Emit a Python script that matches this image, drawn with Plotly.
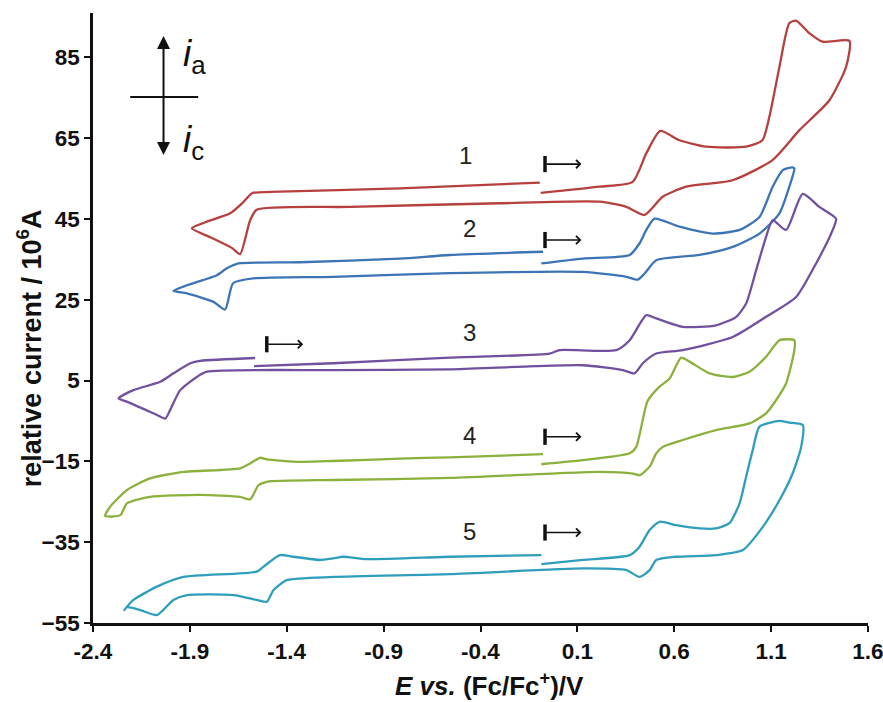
import plotly.graph_objects as go

# ---------------- data (potential in V vs Fc/Fc+, current in 10^-6 A, offset) -------------
c1_E = [-0.089, 0.215, 0.385, 0.456, 0.528, 0.627, 0.765, 0.971, 1.055, 1.091, 1.143, 1.194, 1.229,
        1.297, 1.365, 1.504, 1.487, 1.401, 1.246, 1.107, 0.901, 0.662, 0.540, 0.447, 0.353, 0.215,
        -0.301, -1.074, -1.555, -1.589, -1.641, -1.682, -1.795, -1.890, -1.821, -1.692, -1.630,
        -1.579, -1.486, -0.816, -0.094]
c1_I = [51.5, 53.0, 54.2, 61.3, 66.8, 64.5, 62.9, 62.9, 64.5, 70.3, 82.7, 93.5, 94.1,
        91.0, 88.9, 89.1, 82.7, 74.4, 67.0, 59.6, 54.6, 53.0, 50.5, 46.0, 48.0, 49.3,
        48.9, 48.0, 47.3, 44.7, 36.3, 37.8, 40.5, 42.7, 44.2, 46.4, 48.9,
        51.4, 51.7, 52.6, 54.0]

c2_E = [-0.086, 0.129, 0.370, 0.421, 0.456, 0.498, 0.627, 0.799, 0.937, 1.040, 1.108, 1.160, 1.211,
        1.220, 1.194, 1.143, 1.040, 0.902, 0.730, 0.507, 0.447, 0.412, 0.353, 0.129, -0.558,
        -1.161, -1.572, -1.677, -1.718, -1.778, -1.915, -1.985, -1.915, -1.761, -1.709, -1.649,
        -1.331, -0.816, -0.558, -0.077]
c2_I = [34.0, 35.2, 36.1, 39.0, 42.3, 45.1, 43.1, 41.4, 42.3, 45.5, 53.0, 57.1, 57.8,
        57.5, 53.0, 46.4, 41.4, 38.1, 36.1, 34.8, 31.5, 30.0, 30.7, 31.9, 31.6,
        30.7, 30.3, 29.1, 22.6, 24.5, 26.6, 27.2, 28.6, 31.1, 32.8, 34.0,
        34.3, 35.2, 36.1, 36.9]

c3_E = [-1.569, -1.160, -0.558, -0.043, 0.009, 0.301, 0.370, 0.456, 0.507, 0.644, 0.816, 0.920,
        0.971, 1.023, 1.074, 1.108, 1.177, 1.263, 1.349, 1.435, 1.418, 1.332, 1.229, 1.074, 0.902,
        0.644, 0.507, 0.438, 0.395, 0.335, 0.129, -0.214, -0.558, -1.160, -1.812, -1.864, -1.950,
        -2.002, -2.027, -2.070, -2.225, -2.268, -2.191, -2.053, -1.985, -1.898, -1.847, -1.563]
c3_I = [8.6, 9.3, 10.7, 11.7, 12.55, 12.55, 15.0, 21.2, 20.4, 18.3, 18.7, 20.8,
        24.1, 32.4, 40.6, 44.7, 42.3, 51.2, 48.0, 45.1, 42.3, 34.0, 25.7, 20.8, 15.8,
        12.55, 11.7, 9.3, 6.8, 7.6, 8.8, 8.4, 7.8, 7.6, 7.2, 5.9, 2.65,
        -2.3, -4.4, -3.5, -0.2, 0.6, 2.65, 4.7, 6.8, 9.3, 9.9, 10.6]

c4_E = [-0.086, 0.129, 0.370, 0.404, 0.462, 0.524, 0.576, 0.636, 0.679, 0.782, 0.902, 0.988,
        1.074, 1.143, 1.220, 1.220, 1.177, 1.126, 1.074, 0.988, 0.816, 0.644, 0.541, 0.507,
        0.473, 0.421, 0.387, 0.215, -0.558, -1.160, -1.503, -1.546, -1.589, -1.641, -1.847,
        -2.105, -2.225, -2.259, -2.337, -2.311, -2.225, -2.105, -1.933, -1.641, -1.589, -1.538,
        -1.503, -1.331, -1.160, -0.816, -0.558, -0.077]
c4_I = [-15.7, -14.7, -13.0, -11.4, -0.1, 3.5, 5.5, 10.7, 9.7, 6.8, 5.9, 7.2,
        10.9, 15.0, 15.0, 12.55, 4.3, 0.2, -3.1, -5.6, -7.25, -9.7, -11.4, -13.0,
        -16.3, -18.4, -18.0, -17.6, -19.1, -19.6, -20.05, -20.9, -24.4, -23.8, -23.3,
        -23.8, -25.4, -28.3, -28.5, -26.2, -22.1, -19.2, -17.6, -16.7, -15.5, -14.1,
        -14.5, -15.1, -14.9, -14.3, -14.0, -13.2]

c5_E = [-0.086, 0.129, 0.370, 0.421, 0.473, 0.524, 0.610, 0.730, 0.816, 0.885, 0.937, 0.971,
        1.005, 1.040, 1.143, 1.194, 1.263, 1.255, 1.211, 1.143, 1.057, 0.954, 0.816, 0.610,
        0.507, 0.473, 0.421, 0.353, 0.129, -0.558, -1.160, -1.400, -1.469, -1.503, -1.555,
        -1.675, -1.915, -1.985, -2.070, -2.156, -2.225, -2.239, -2.191, -2.070, -1.933, -1.555,
        -1.521, -1.435, -1.366, -1.228, -1.160, -1.108, -0.988, -0.558, -0.086]
c5_I = [-40.4, -39.4, -38.2, -36.1, -32.0, -29.95, -30.8, -31.6, -31.6, -30.3, -25.4, -18.8,
        -12.2, -6.4, -4.95, -5.4, -6.0, -11.4, -18.0, -24.6, -31.2, -36.95, -38.2, -38.6,
        -39.4, -41.9, -43.6, -41.9, -41.5, -42.9, -43.6, -44.4, -46.9, -49.75, -49.3,
        -48.1, -48.1, -49.3, -53.05, -51.8, -51.1, -51.8, -49.3, -46.0, -43.6, -42.3,
        -41.1, -38.2, -38.6, -39.4, -39.0, -38.6, -39.2, -38.6, -38.2]

curve_labels = ["1", "2", "3", "4", "5"]
curve_colors = ["#B5403D", "#3C74B6", "#7150A0", "#8BB03C", "#2E9EBC"]

x_ticks = [-2.4, -1.9, -1.4, -0.9, -0.4, 0.1, 0.6, 1.1, 1.6]
y_ticks = [-55, -35, -15, 5, 25, 45, 65, 85]

curves = [(c1_E, c1_I), (c2_E, c2_I), (c3_E, c3_I), (c4_E, c4_I), (c5_E, c5_I)]

FONT = "Liberation Sans, Arial, sans-serif"

fig = go.Figure()
for (E, I), col, lab in zip(curves, curve_colors, curve_labels):
    fig.add_trace(go.Scatter(x=E, y=I, mode="lines", name=lab,
                             line=dict(color=col, width=2.3, shape="spline", smoothing=0.6),
                             showlegend=False, hoverinfo="skip"))

ann = []
shapes = []
# curve numbers
label_pos = [(-0.476, 60.8), (-0.455, 42.7), (-0.455, 17.0), (-0.455, -8.5), (-0.455, -32.3)]
for lab, (lx, ly) in zip(curve_labels, label_pos):
    ann.append(dict(x=lx, y=ly, xref="x", yref="y", text=lab, showarrow=False,
                    font=dict(family=FONT, size=24, color="#222")))

# scan-start markers |-->
markers = [(-0.067, 0.121, 58.6), (-0.067, 0.121, 39.8), (-1.503, -1.315, 14.0),
           (-0.067, 0.121, -8.9), (-0.067, 0.121, -32.6)]
for x0, x1, yy in markers:
    ann.append(dict(x=x1, y=yy, ax=x0, ay=yy, xref="x", yref="y", axref="x", ayref="y",
                    text="", showarrow=True, arrowhead=4, arrowsize=1.0, arrowwidth=1.6,
                    arrowcolor="#111"))
    shapes.append(dict(type="line", xref="x", yref="y", x0=x0, x1=x0, y0=yy - 2.0, y1=yy + 2.0,
                       line=dict(color="#111", width=3.5)))

# i_a / i_c indicator
ann.append(dict(x=-2.036, y=90.3, ax=-2.036, ay=60.5, xref="x", yref="y", axref="x", ayref="y",
                text="", showarrow=True, arrowhead=2, arrowside="end+start", arrowsize=1.3,
                arrowwidth=2, arrowcolor="#111"))
shapes.append(dict(type="line", xref="x", yref="y", x0=-2.208, x1=-1.857, y0=75.2, y1=75.2,
                   line=dict(color="#111", width=2)))
ann.append(dict(x=-1.948, y=85.3, xref="x", yref="y", xanchor="left",
                text="<i>i</i><sub>a</sub>", showarrow=False,
                font=dict(family=FONT, size=37, color="#111")))
ann.append(dict(x=-1.948, y=64.0, xref="x", yref="y", xanchor="left",
                text="<i>i</i><sub>c</sub>", showarrow=False,
                font=dict(family=FONT, size=37, color="#111")))

# axis titles (placed as in the original)
ann.append(dict(x=-0.083, y=0.45, xref="paper", yref="paper", textangle=-90,
                xanchor="center", yanchor="middle",
                text="relative current / 10<sup>6</sup>A", showarrow=False,
                font=dict(family=FONT, size=27, color="#111", weight="bold")))
ann.append(dict(x=0.511, y=-0.1015, xref="paper", yref="paper",
                xanchor="center", yanchor="middle",
                text="<i>E vs.</i> (Fc/Fc<sup>+</sup>)/V", showarrow=False,
                font=dict(family=FONT, size=26, color="#111", weight="bold")))

tickfont = dict(family=FONT, size=22.5, color="#111", weight="bold")
fig.update_layout(
    width=883, height=702,
    margin=dict(l=93, r=15, t=13, b=79, autoexpand=False),
    plot_bgcolor="white", paper_bgcolor="white",
    annotations=ann, shapes=shapes,
    xaxis=dict(range=[-2.4, 1.6], tickvals=x_ticks, ticktext=[f"{v:.1f}" for v in x_ticks],
               showgrid=False, zeroline=False, showline=True, linecolor="#111", linewidth=2.5,
               ticks="outside", ticklen=6, tickwidth=2.2, tickcolor="#111",
               tickfont=tickfont, ticklabeloverflow="allow", automargin=False),
    yaxis=dict(range=[-55, 96], tickvals=y_ticks,
               showgrid=False, zeroline=False, showline=True, linecolor="#111", linewidth=2.5,
               ticks="outside", ticklen=6, tickwidth=2.2, tickcolor="#111",
               tickfont=tickfont, ticklabeloverflow="allow", automargin=False),
)

fig.write_html("out.html")
